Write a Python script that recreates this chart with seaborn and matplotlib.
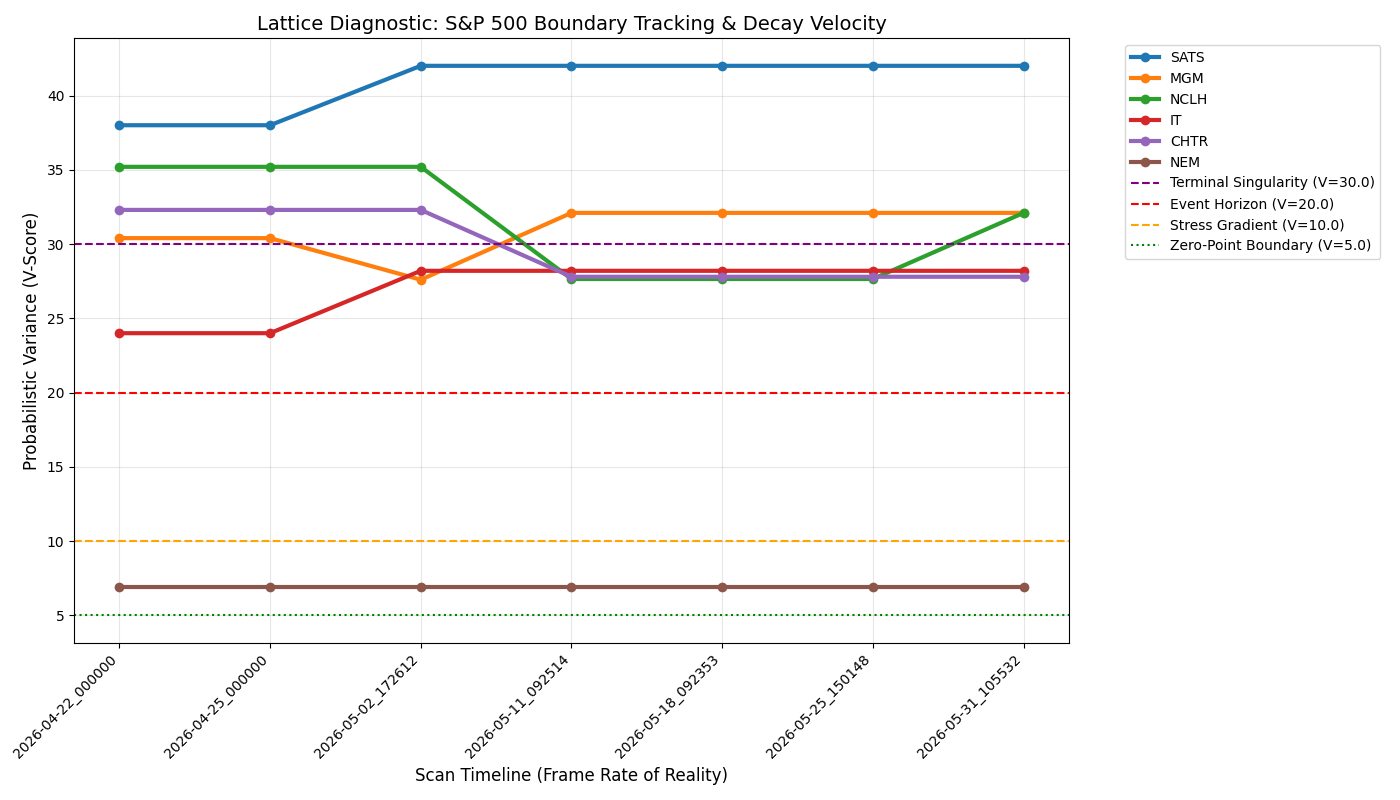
import matplotlib
matplotlib.use("Agg")
import matplotlib.pyplot as plt
import seaborn as sns
import pandas as pd

scans = ["2026-04-22_000000", "2026-04-25_000000", "2026-05-02_172612",
         "2026-05-11_092514", "2026-05-18_092353", "2026-05-25_150148",
         "2026-05-31_105532"]
sats = [38.0, 38.0, 42.0, 42.0, 42.0, 42.0, 42.0]
mgm = [30.4, 30.4, 27.6, 32.1, 32.1, 32.1, 32.1]
nclh = [35.2, 35.2, 35.2, 27.65, 27.65, 27.65, 32.1]
it = [24.0, 24.0, 28.2, 28.2, 28.2, 28.2, 28.2]
chtr = [32.3, 32.3, 32.3, 27.8, 27.8, 27.8, 27.8]
nem = [6.9, 6.9, 6.9, 6.9, 6.9, 6.9, 6.9]

tickers = ["SATS", "MGM", "NCLH", "IT", "CHTR", "NEM"]
series = [sats, mgm, nclh, it, chtr, nem]

thresholds = [30.0, 20.0, 10.0, 5.0]
threshold_names = ["Terminal Singularity", "Event Horizon", "Stress Gradient", "Zero-Point Boundary"]
threshold_colors = ["purple", "red", "orange", "green"]
threshold_styles = ["--", "--", "--", ":"]

rows = []
for t, vals in zip(tickers, series):
    for s, v in zip(scans, vals):
        rows.append({"Scan": s, "Ticker": t, "V": v})
df = pd.DataFrame(rows)

fig, ax = plt.subplots(figsize=(14, 8), dpi=100)
palette = sns.color_palette("tab10", 6)
for i, t in enumerate(tickers):
    sub = df[df["Ticker"] == t]
    sns.lineplot(data=sub, x="Scan", y="V", ax=ax, color=palette[i], linewidth=3,
                 marker="o", markersize=7, markeredgewidth=0, label=t, sort=False)

for val, name, c, ls in zip(thresholds, threshold_names, threshold_colors, threshold_styles):
    ax.axhline(val, color=c, linestyle=ls, linewidth=1.5, label=f"{name} (V={val})")

ax.set_title("Lattice Diagnostic: S&P 500 Boundary Tracking & Decay Velocity", fontsize=14)
ax.set_xlabel("Scan Timeline (Frame Rate of Reality)", fontsize=12)
ax.set_ylabel("Probabilistic Variance (V-Score)", fontsize=12)
ax.grid(True, alpha=0.3)
plt.setp(ax.get_xticklabels(), rotation=45, ha="right")
ax.legend(bbox_to_anchor=(1.05, 1), loc="upper left")
plt.tight_layout()
fig.savefig("out.png")
